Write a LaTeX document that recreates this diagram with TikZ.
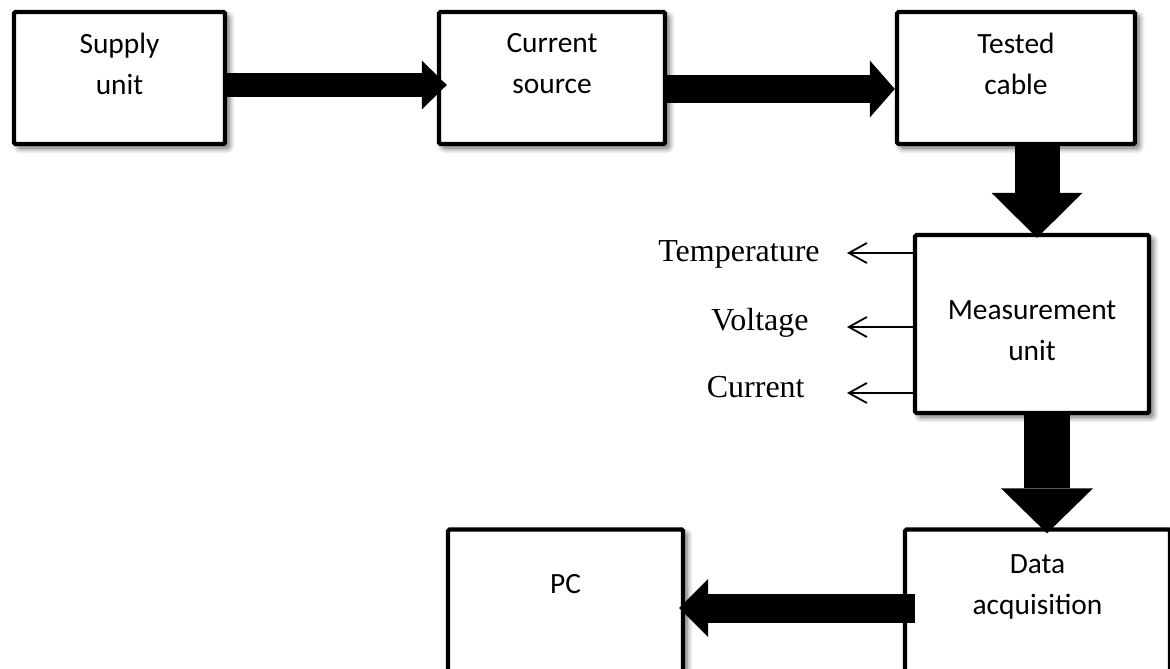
\documentclass[tikz,border=0pt]{standalone}
\usepackage{fontspec}
\setmainfont{Liberation Serif}
\newfontfamily\boxfont{Carlito}
\usetikzlibrary{
  arrows.meta,
  positioning,
  shadows.blur
}

\tikzset{
  unitbox/.style={
    draw, line width=2.2pt, rounded corners=0.8pt, fill=white, inner sep=0pt,
    blur shadow={shadow xshift=2pt, shadow yshift=-2pt,
      shadow blur radius=3pt, shadow blur steps=8, shadow opacity=60}
  },
  boxtext/.style={align=center, inner sep=0pt,
    font=\boxfont\fontsize{14.7}{20.5}\selectfont},
  sigtext/.style={anchor=base east, inner sep=0pt,
    font=\fontsize{16}{19}\selectfont},
  flow/.style args={#1/#2/#3}{
    line width=#1, -{Triangle[width=#2, length=#3, line width=0pt]}
  },
  sigflow/.style={line width=0.9pt, -{Straight Barb[length=9pt, width=10pt]}}
}

\begin{document}
\begin{tikzpicture}[x=0.5pt, y=-0.5pt]

\useasboundingbox (0,0) rectangle (1170,668);

% The units
\node[unitbox, minimum width=105.5pt, minimum height=66pt] (sup) at (119.5,78) {};
\node[unitbox, minimum width=113pt, minimum height=66pt] (src) at (552,78) {};
\node[unitbox, minimum width=119pt, minimum height=66pt] (cab) at (1016,78) {};
\node[unitbox, minimum width=117pt, minimum height=89pt] (mea) at (1032,324) {};
\node[unitbox, minimum width=117.5pt, minimum height=89pt] (pc) at (565.5,618.5) {};
\node[unitbox, minimum width=132.5pt, minimum height=89pt] (daq) at (1037.5,618.5) {};

% Their texts
\node[boxtext] (supt) at ([yshift=7pt]sup.center) {Supply\\unit};
\node[boxtext] (srct) at ([yshift=7pt]src.center) {Current\\source};
\node[boxtext] (cabt) at ([yshift=7pt]cab.center) {Tested\\cable};
\node[boxtext] (meat) at ([yshift=-3.5pt]mea.center) {Measurement\\unit};
\node[boxtext] (daqt) at ([yshift=16pt]daq.center) {Data\\acquisition};
\node[boxtext] (pct) at ([yshift=17pt]pc.center) {PC};

% Main flow
\draw[flow={12pt/24.5pt/12.5pt}] ([yshift=-3.5pt]sup.east) -- ([xshift=5pt,yshift=-3.5pt]src.west);
\draw[flow={14pt/28.5pt/12.5pt}] ([yshift=-5.5pt]src.east) -- ([yshift=-5.5pt]cab.west);
\draw[flow={22.5pt/45.5pt/22.5pt}] ([xshift=10.5pt]cab.south) -- ([xshift=2.5pt,yshift=-2.5pt]mea.north);
\draw[flow={23pt/46pt/22.5pt}] ([xshift=7.5pt]mea.south) -- ([xshift=4.75pt,yshift=-3pt]daq.north);
\draw[flow={14.5pt/29pt/14.5pt}] ([xshift=6pt,yshift=5.25pt]daq.west) -- ([xshift=-3pt,yshift=5.25pt]pc.east);

% Measured signals
\coordinate (tmp) at (847,253);
\coordinate (vol) at (847,327);
\coordinate (amp) at (847,393);
\foreach \s in {tmp,vol,amp}
  \draw[sigflow] (mea.west |- \s) -- (\s);

\node[sigtext] (tmpt) at ([xshift=-13.5pt,yshift=-4pt]tmp) {Temperature};
\node[sigtext] (volt) at ([xshift=-19pt,yshift=-1.5pt]vol) {Voltage};
\node[sigtext] (ampt) at ([xshift=-21pt,yshift=-2pt]amp) {Current};

\end{tikzpicture}
\end{document}
